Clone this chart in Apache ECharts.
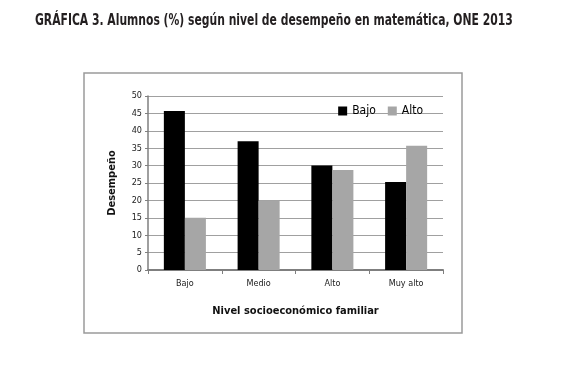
<!DOCTYPE html>
<html>
<head>
<meta charset="utf-8">
<script src="https://cdn.jsdelivr.net/npm/echarts@6/dist/echarts.min.js"></script>
<style>
  html, body { margin: 0; padding: 0; background: #fff; }
  #chart { width: 564px; height: 367px; }
</style>
</head>
<body>
<div id="chart"></div>
<script>
var categories = ['Bajo', 'Medio', 'Alto', 'Muy alto'];
var bajoValues = [45.7, 37.0, 30.0, 25.3];
var altoValues = [15.0, 20.0, 28.7, 35.7];
var seriesNames = ['Bajo', 'Alto'];
var titleText = 'GRÁFICA 3. Alumnos (%) según nivel de desempeño en matemática, ONE 2013';

var font = '"DejaVu Sans Condensed", "Liberation Sans Narrow", sans-serif';

var chart = echarts.init(document.getElementById('chart'));
chart.setOption({
    animation: false,
    textStyle: {fontFamily: font},
    graphic: [{
        type: 'rect',
        shape: {x: 84, y: 73, width: 378, height: 260},
        style: {fill: 'none', stroke: '#9a9a9a', lineWidth: 1.5},
        silent: true
    }, {
        // title drawn as text so it can be squeezed like the condensed original
        type: 'text',
        x: 35,
        y: 14,
        scaleX: 0.8,
        style: {
            text: titleText,
            font: 'bold 15px ' + font,
            fill: '#231f20'
        },
        silent: true
    }],
    legend: {
        data: seriesNames,
        right: 136,
        top: 100,
        itemWidth: 9,
        itemHeight: 9,
        itemGap: 12,
        icon: 'rect',
        textStyle: {fontFamily: font, fontSize: 12, color: '#000'}
    },
    grid: {left: 148, right: 121, top: 96, bottom: 97},
    xAxis: {
        type: 'category',
        data: categories,
        name: 'Nivel socioeconómico familiar',
        nameLocation: 'middle',
        nameGap: 36,
        nameTextStyle: {fontFamily: font, fontSize: 11, fontWeight: 'bold', color: '#111'},
        axisLine: {lineStyle: {color: '#7f7f7f', width: 2}},
        axisTick: {show: true, length: 4, lineStyle: {color: '#7f7f7f'}},
        axisLabel: {fontFamily: font, fontSize: 9, color: '#222', margin: 9}
    },
    yAxis: {
        type: 'value',
        min: 0,
        max: 50,
        interval: 5,
        name: 'Desempeño',
        nameLocation: 'middle',
        nameGap: 30,
        nameTextStyle: {fontFamily: font, fontSize: 11, fontWeight: 'bold', color: '#111'},
        axisLine: {show: true, lineStyle: {color: '#7f7f7f', width: 1.5}},
        axisTick: {show: true, length: 3, lineStyle: {color: '#7f7f7f'}},
        axisLabel: {fontFamily: font, fontSize: 9, color: '#222', margin: 6},
        splitLine: {lineStyle: {color: '#a0a0a0', width: 1}}
    },
    series: [{
        name: seriesNames[0],
        type: 'bar',
        data: bajoValues,
        itemStyle: {color: '#000000'},
        barGap: '0%',
        barCategoryGap: '43%'
    }, {
        name: seriesNames[1],
        type: 'bar',
        data: altoValues,
        itemStyle: {color: '#a6a6a6'},
        barGap: '0%',
        barCategoryGap: '43%'
    }]
});
</script>
</body>
</html>
